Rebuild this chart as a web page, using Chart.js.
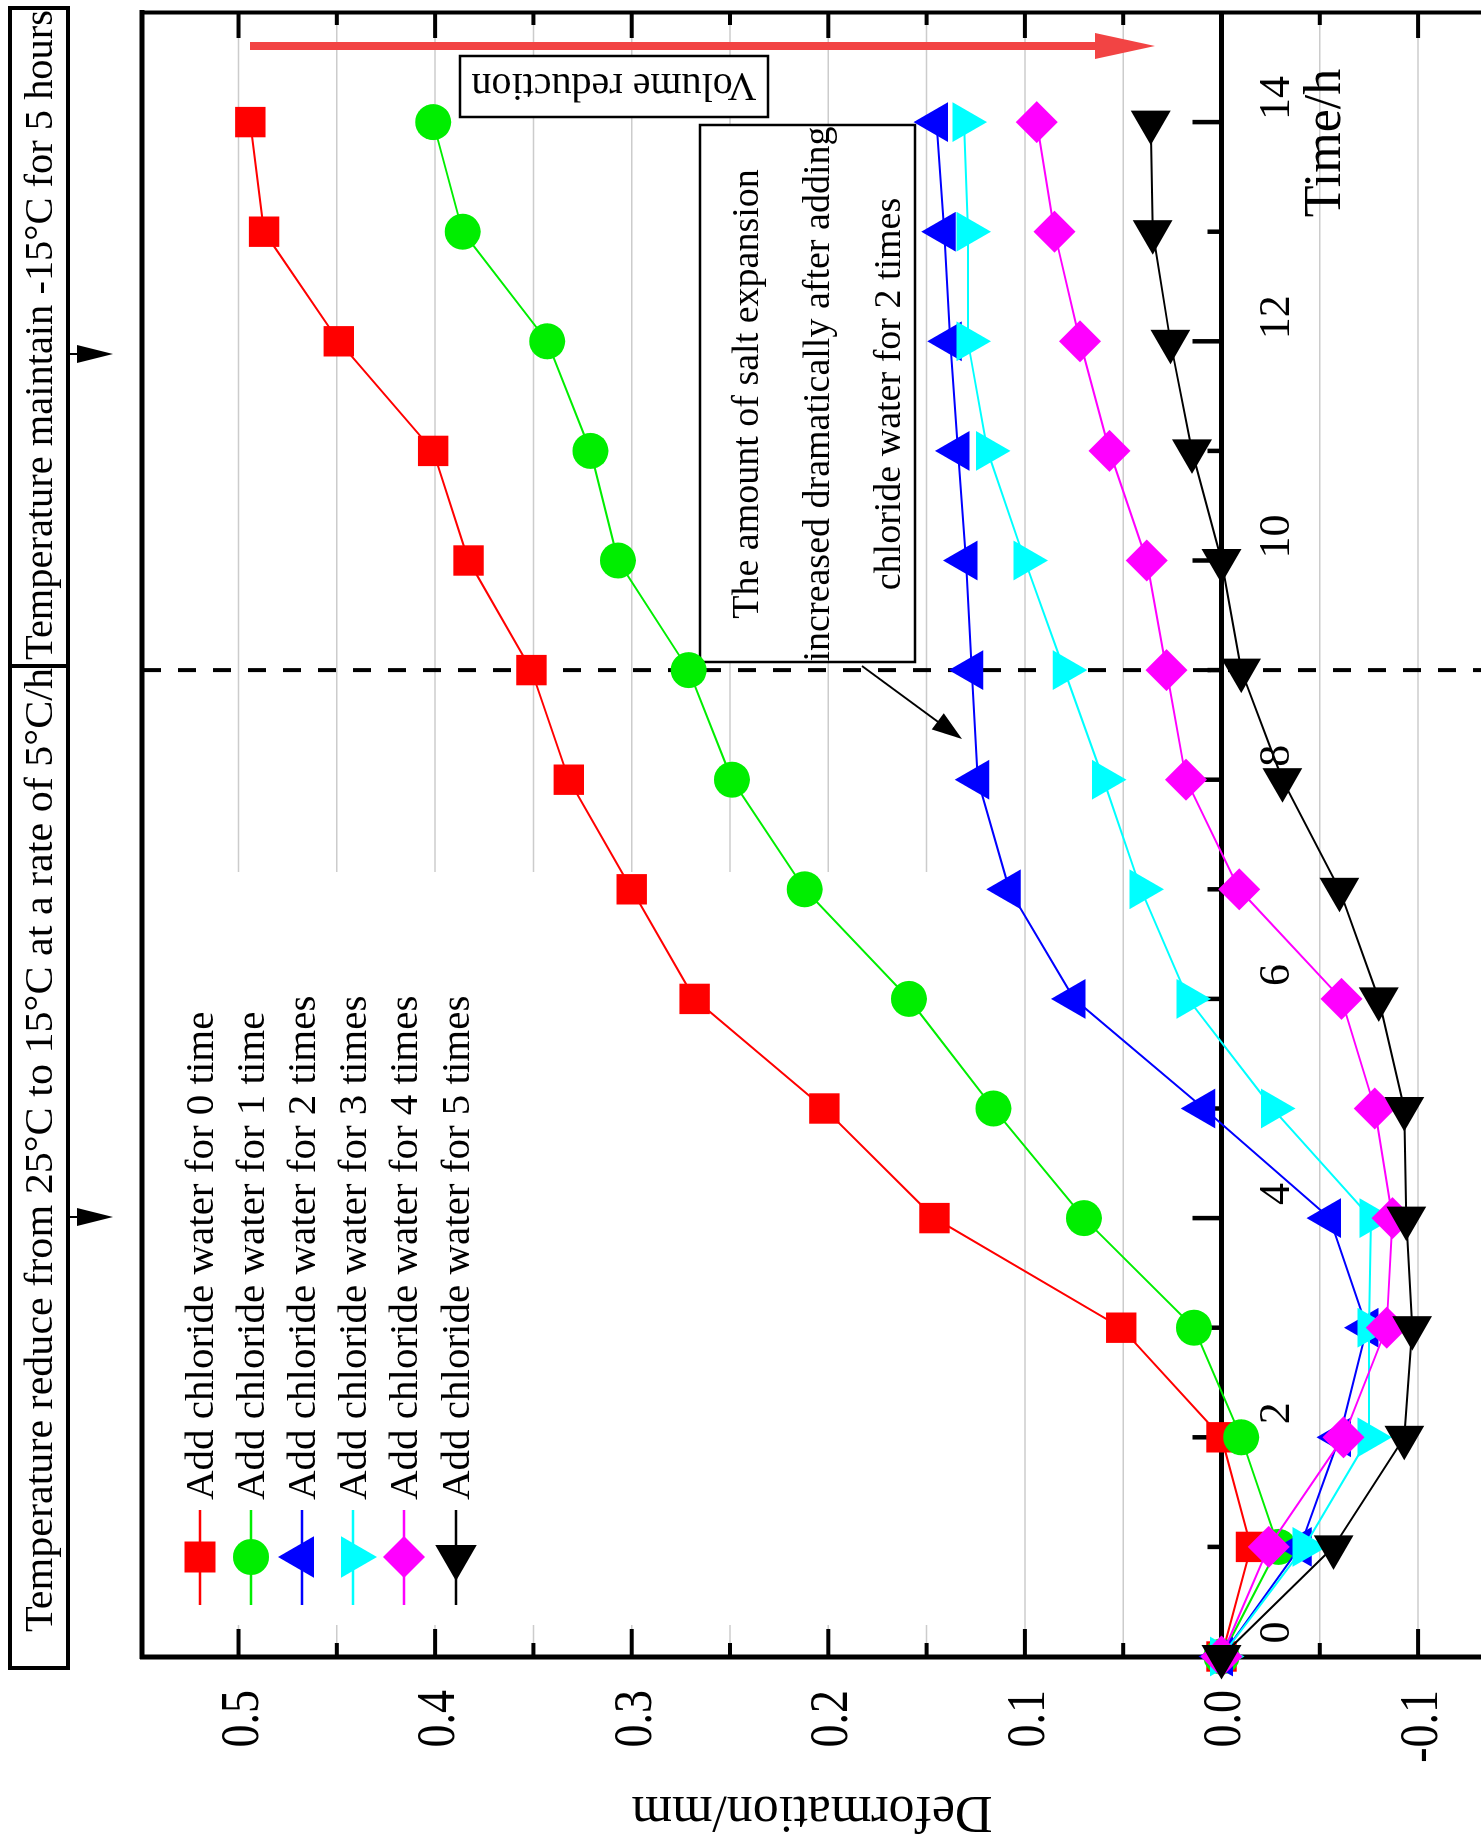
<!DOCTYPE html>
<html>
<head>
<meta charset="utf-8">
<script src="https://cdn.jsdelivr.net/npm/chart.js@4.4.0/dist/chart.umd.min.js"></script>
<style>
  html, body { margin: 0; padding: 0; background: #fff; overflow: hidden; }
  #wrap { position: absolute; left: 0; top: 0; width: 1839px; height: 1481px;
          transform-origin: 0 0; transform: translateY(1839px) rotate(-90deg); }
  #fontprobe { position: absolute; left: -9999px; top: 0; font: 40px "Liberation Serif", Tinos, "Times New Roman", Times, "DejaVu Serif", serif; }
</style>
</head>
<body>
<div id="fontprobe">Temperature 0.5 Deformation</div>
<div id="wrap"><canvas id="chart1" width="1839" height="1481"></canvas></div>
<script>
// data (time in h, deformation in mm)
const times = [0, 1, 2, 3, 4, 5, 6, 7, 8, 9, 10, 11, 12, 13, 14];
const chloride0 = [0, -0.015, 0.000, 0.051, 0.146, 0.202, 0.268, 0.300, 0.332, 0.351, 0.383, 0.401, 0.449, 0.487, 0.494];
const chloride1 = [0, -0.029, -0.010, 0.014, 0.070, 0.116, 0.159, 0.212, 0.249, 0.271, 0.307, 0.321, 0.343, 0.386, 0.401];
const chloride2 = [0, -0.040, -0.060, -0.074, -0.055, 0.009, 0.075, 0.108, 0.124, 0.127, 0.130, 0.134, 0.138, 0.141, 0.145];
const chloride3 = [0, -0.042, -0.075, -0.075, -0.076, -0.026, 0.017, 0.041, 0.060, 0.080, 0.100, 0.119, 0.129, 0.129, 0.131];
const chloride4 = [0, -0.024, -0.062, -0.084, -0.087, -0.078, -0.061, -0.009, 0.018, 0.028, 0.038, 0.057, 0.072, 0.085, 0.094];
const chloride5 = [0, -0.057, -0.093, -0.097, -0.094, -0.093, -0.080, -0.060, -0.031, -0.010, 0.000, 0.015, 0.026, 0.035, 0.036];

const seriesLabels = [
  'Add chloride water for 0 time',
  'Add chloride water for 1 time',
  'Add chloride water for 2 times',
  'Add chloride water for 3 times',
  'Add chloride water for 4 times',
  'Add chloride water for 5 times'
];
const timeTicks = [0, 2, 4, 6, 8, 10, 12, 14];
const timeMinor = [1, 3, 5, 7, 9, 11, 13];
const defTicks = [0.5, 0.4, 0.3, 0.2, 0.1, 0.0, -0.1];
const defTickLabels = ['0.5', '0.4', '0.3', '0.2', '0.1', '0.0', '-0.1'];
const defMinor = [0.45, 0.35, 0.25, 0.15, 0.05, -0.05];
const dashedAt = 9;

const allSeries = [chloride0, chloride1, chloride2, chloride3, chloride4, chloride5];
const looks = [
  { color: '#ff0000', shape: 'rect', r: 21.5, rot: 0, legend: 'square' },
  { color: '#00ee00', shape: 'circle', r: 18, rot: 0, legend: 'circle' },
  { color: '#0000ff', shape: 'triangle', r: 23, rot: 0, legend: 'left' },
  { color: '#00ffff', shape: 'triangle', r: 23, rot: 180, legend: 'right' },
  { color: '#ff00ff', shape: 'rectRot', r: 21, rot: 0, legend: 'diamond' },
  { color: '#000000', shape: 'triangle', r: 23, rot: 270, legend: 'down' }
];

const W = 1839;
const SERIF = '"Liberation Serif", Tinos, "Times New Roman", Times, "DejaVu Serif", serif';

function seg(ctx, x1, y1, x2, y2) {
  ctx.beginPath(); ctx.moveTo(x1, y1); ctx.lineTo(x2, y2); ctx.stroke();
}
function head(ctx, x1, y1, x2, y2, len, hw) {
  const a = Math.atan2(y2 - y1, x2 - x1);
  const bx = x2 - Math.cos(a) * len, by = y2 - Math.sin(a) * len;
  ctx.beginPath();
  ctx.moveTo(x2, y2);
  ctx.lineTo(bx + Math.sin(a) * hw, by - Math.cos(a) * hw);
  ctx.lineTo(bx - Math.sin(a) * hw, by + Math.cos(a) * hw);
  ctx.closePath(); ctx.fill();
}
function txt(ctx, s, x, y, rot, size, align, sx, sy) {
  ctx.save();
  ctx.translate(x, y);
  ctx.rotate(rot);
  ctx.scale(sx || 1, sy || 1);
  ctx.font = size + 'px ' + SERIF;
  ctx.textAlign = align;
  ctx.textBaseline = 'alphabetic';
  ctx.fillStyle = '#000';
  ctx.fillText(s, 0, 0);
  ctx.restore();
}
function fitTxt(ctx, s, x, y, size, len) {
  ctx.font = size + 'px ' + SERIF;
  const k = len / ctx.measureText(s).width;
  txt(ctx, s, x, y, -Math.PI / 2, size, 'left', k, 1);
}
function shape(ctx, kind, x, y, color) {
  ctx.fillStyle = color;
  ctx.beginPath();
  const tri = (a, r) => {
    for (let k = 0; k < 3; k++) {
      const b = a + k * 2 * Math.PI / 3;
      if (k === 0) ctx.moveTo(x + r * Math.cos(b), y + r * Math.sin(b));
      else ctx.lineTo(x + r * Math.cos(b), y + r * Math.sin(b));
    }
    ctx.closePath();
  };
  if (kind === 'square') ctx.rect(x - 15.5, y - 15.5, 31, 31);
  else if (kind === 'circle') ctx.arc(x, y, 18, 0, 2 * Math.PI);
  else if (kind === 'left') tri(Math.PI, 24);
  else if (kind === 'right') tri(0, 24);
  else if (kind === 'down') tri(Math.PI / 2, 24);
  else if (kind === 'diamond') {
    ctx.moveTo(x - 21, y); ctx.lineTo(x, y - 21); ctx.lineTo(x + 21, y); ctx.lineTo(x, y + 21); ctx.closePath();
  }
  ctx.fill();
}

// everything below draws in screen coordinates (the canvas itself is turned by CSS)
const overlay = {
  id: 'overlay',
  beforeDatasetsDraw(chart) {
    const ctx = chart.ctx;
    const sx = d => chart.scales.y.getPixelForValue(d);
    const sy = t => W - chart.scales.x.getPixelForValue(t);
    const x0 = sx(0);
    ctx.save();
    ctx.transform(0, 1, -1, 0, W, 0);

    // light grid
    ctx.strokeStyle = '#cccccc'; ctx.lineWidth = 1.5;
    defTicks.concat(defMinor).forEach(d => { if (d !== 0) seg(ctx, sx(d), 14, sx(d), 1655); });

    // white area behind the legend
    ctx.fillStyle = '#fff';
    ctx.fillRect(145, 872, 815, 753);

    // annotation boxes
    ctx.fillStyle = '#fff'; ctx.strokeStyle = '#000'; ctx.lineWidth = 2.5;
    ctx.fillRect(700, 125, 215, 537); ctx.strokeRect(700, 125, 215, 537);
    ctx.fillRect(460, 56, 308, 61); ctx.strokeRect(460, 56, 308, 61);

    // frame
    ctx.strokeStyle = '#000';
    ctx.lineWidth = 5;
    seg(ctx, 140, 1657, W, 1657);
    seg(ctx, 142, 10, 142, 1659);
    ctx.lineWidth = 4;
    seg(ctx, 140, 12.5, W, 12.5);

    // ticks on bottom and top frame
    ctx.lineWidth = 4;
    defTicks.forEach(d => { if (d !== 0) { seg(ctx, sx(d), 1657, sx(d), 1629); seg(ctx, sx(d), 12, sx(d), 38); } });
    defMinor.forEach(d => { seg(ctx, sx(d), 1657, sx(d), 1643); seg(ctx, sx(d), 12, sx(d), 25); });

    // time axis along zero deformation
    ctx.lineWidth = 5;
    seg(ctx, x0, 12, x0, 1657);
    ctx.lineWidth = 4.5;
    timeTicks.forEach(t => { if (t > 0) seg(ctx, x0, sy(t), x0 - 29, sy(t)); });
    timeMinor.forEach(t => seg(ctx, x0, sy(t), x0 - 14, sy(t)));

    // dashed line
    ctx.lineWidth = 4;
    ctx.setLineDash([18, 17]);
    seg(ctx, 143, sy(dashedAt), W, sy(dashedAt));
    ctx.setLineDash([]);
    ctx.restore();
  },
  afterDatasetsDraw(chart) {
    const ctx = chart.ctx;
    const sx = d => chart.scales.y.getPixelForValue(d);
    const sy = t => W - chart.scales.x.getPixelForValue(t);
    const x0 = sx(0);
    const ccw = -Math.PI / 2;
    ctx.save();
    ctx.transform(0, 1, -1, 0, W, 0);

    // tick labels
    defTicks.forEach((d, i) => txt(ctx, defTickLabels[i], sx(d) + 19, 1690, ccw, 46, 'right', 1, 1.2));
    timeTicks.forEach(t => txt(ctx, String(t), x0 + 68, sy(t) - 24, ccw, 44, 'center'));
    txt(ctx, 'Time/h', 1340, 143, ccw, 52, 'center');
    txt(ctx, 'Deformation/mm', 812, 1797, Math.PI, 52, 'center');

    // temperature boxes
    ctx.strokeStyle = '#000'; ctx.lineWidth = 4;
    ctx.strokeRect(10, 8, 58, 1660);
    seg(ctx, 10, 666, 68, 666);
    fitTxt(ctx, 'Temperature reduce from 25°C to 15°C at a rate of 5°C/h', 52, 1632, 41, 964);
    fitTxt(ctx, 'Temperature maintain -15°C for 5 hours', 52, 660, 41, 650);
    ctx.fillStyle = '#000'; ctx.lineWidth = 2;
    [1217, 354].forEach(y => { seg(ctx, 68, y, 84, y); head(ctx, 68, y, 113, y, 36, 9); });

    // red arrow
    ctx.strokeStyle = '#f24444'; ctx.fillStyle = '#f24444'; ctx.lineWidth = 8;
    seg(ctx, 250, 46, 1100, 46);
    head(ctx, 250, 46, 1155, 46, 60, 13);

    // volume reduction
    txt(ctx, 'Volume reduction', 614, 74, Math.PI, 40, 'center');

    // salt expansion note
    txt(ctx, 'The amount of salt expansion', 758, 394, ccw, 38, 'center');
    txt(ctx, 'increased dramatically after adding', 829, 394, ccw, 38, 'center');
    txt(ctx, 'chloride water for 2 times', 900, 394, ccw, 38, 'center');
    ctx.strokeStyle = '#000'; ctx.fillStyle = '#000'; ctx.lineWidth = 2;
    seg(ctx, 862, 666, 945, 727);
    head(ctx, 862, 666, 962, 739, 30, 10);

    // legend
    const cols = [200, 251, 302, 353, 404, 456];
    cols.forEach((x, i) => {
      ctx.strokeStyle = looks[i].color; ctx.lineWidth = 2.5;
      seg(ctx, x, 1510, x, 1605);
      shape(ctx, looks[i].legend, x, 1557, looks[i].color);
      txt(ctx, seriesLabels[i], x + 13, 1500, ccw, 41, 'left');
    });
    ctx.restore();
  }
};

const datasets = allSeries.map((vals, i) => ({
  label: seriesLabels[i],
  data: times.map((t, j) => ({ x: t, y: vals[j] })),
  borderColor: looks[i].color,
  backgroundColor: looks[i].color,
  borderWidth: 2,
  pointStyle: looks[i].shape,
  pointRadius: looks[i].r,
  pointRotation: looks[i].rot,
  pointBorderWidth: 0,
  pointBackgroundColor: looks[i].color,
  tension: 0,
  clip: false,
  order: 6 - i
}));

function build() {
  new Chart(document.getElementById('chart1'), {
    type: 'line',
    data: { datasets: datasets },
    options: {
      responsive: false,
      devicePixelRatio: 1,
      animation: false,
      layout: { autoPadding: false, padding: { left: 182.5, right: 12.5, top: 142, bottom: 0 } },
      plugins: { legend: { display: false }, tooltip: { enabled: false } },
      scales: {
        x: { type: 'linear', min: 0, max: 15, display: false },
        y: { type: 'linear', min: -0.132, max: 0.5491, display: false }
      }
    },
    plugins: [overlay]
  });
}

if (document.fonts && document.fonts.load) {
  document.fonts.load('40px "Liberation Serif"').then(build, build);
} else {
  build();
}
</script>
</body>
</html>
